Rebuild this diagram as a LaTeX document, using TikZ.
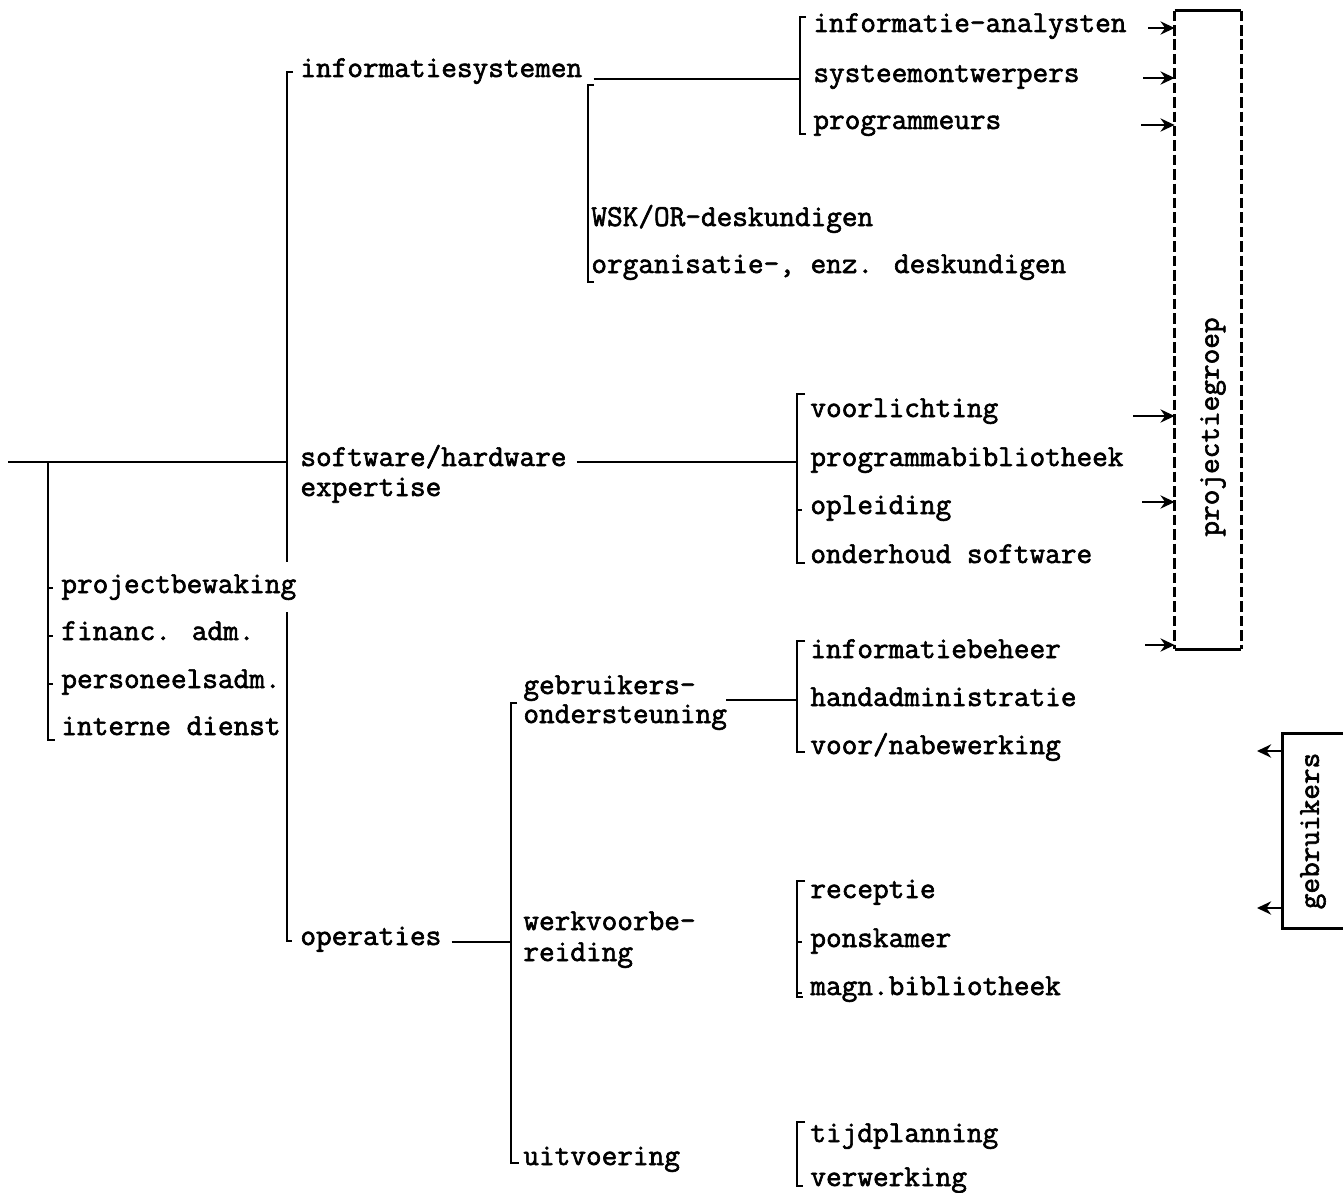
\documentclass[tikz,border=0pt]{standalone}
\usepackage{fontspec}
\usetikzlibrary{arrows.meta,positioning,calc}
\newfontfamily\twfam[Extension=.otf, FakeBold=2]{lmmono12-regular}
\newcommand{\twfont}{\twfam\fontsize{17.3}{20}\selectfont}

\begin{document}
\begin{tikzpicture}[x=0.02cm, y=-0.02cm, line width=1.6pt, >={Stealth[length=8pt,width=7.5pt]},
    lbl/.style={anchor=base west, inner sep=0pt, font=\twfont},
    vlbl/.style={rotate=90, inner sep=0pt, font=\twfont},
    spine/.style={line width=1.6pt, line join=miter},
    feed/.style={->, line width=1.6pt},
    side/.style={line width=1.6pt, dash pattern=on 6pt off 2.2pt}]
  \useasboundingbox (0,0) rectangle (1343,1193);
  % ---------------- labels, top branch ----------------
  \node[lbl] (isys) at (299,77) {informatiesystemen};
  \node[lbl] (ian)  at (812,32) {informatie-analysten};
  \node[lbl] (sow)  at (812,82) {systeemontwerpers};
  \node[lbl] (prg)  at (812,129) {programmeurs};
  \node[lbl] (wsk)  at (590,226) {WSK/OR-deskundigen};
  \node[lbl] (org)  at (590,273) {organisatie-, enz. deskundigen};
  % ---------------- labels, middle branch ----------------
  \node[lbl] (swh)  at (299,466) {software/hardware};
  \node[lbl] (swh2) at (299,496) {expertise};
  \node[lbl] (vrl)  at (809,417) {voorlichting};
  \node[lbl] (pbib) at (809,466) {programmabibliotheek};
  \node[lbl] (opl)  at (809,514) {opleiding};
  \node[lbl] (ohs)  at (809,563) {onderhoud software};
  % ---------------- labels, staff ----------------
  \node[lbl] (pbw)  at (60,593) {projectbewaking};
  \node[lbl] (fin)  at (60,640) {financ. adm.};
  \node[lbl] (pers) at (60,688) {personeelsadm.};
  \node[lbl] (intd) at (60,735) {interne dienst};
  % ---------------- labels, operations ----------------
  \node[lbl] (ops)  at (299,945) {operaties};
  \node[lbl] (gbo)  at (522,694) {gebruikers-};
  \node[lbl] (gbo2) at (522,723) {ondersteuning};
  \node[lbl] (wvb)  at (522,930) {werkvoorbe-};
  \node[lbl] (wvb2) at (522,961) {reiding};
  \node[lbl] (uitv) at (522,1165) {uitvoering};
  \node[lbl] (ibh)  at (809,658) {informatiebeheer};
  \node[lbl] (hadm) at (809,706) {handadministratie};
  \node[lbl] (vnb)  at (809,754) {voor/nabewerking};
  \node[lbl] (rec)  at (809,898) {receptie};
  \node[lbl] (pons) at (809,947) {ponskamer};
  \node[lbl] (magn) at (809,995) {magn.bibliotheek};
  \node[lbl] (tijd) at (809,1142) {tijdplanning};
  \node[lbl] (verw) at (809,1186) {verwerking};
  % ---------------- groups on the right ----------------
  \node[inner sep=0pt, minimum width=1.28cm, minimum height=12.72cm] (pg) at (1208,330) {};
  \node[vlbl] (pgt) at (1213,427) {projectiegroep};
  \node[draw, inner sep=0pt, minimum width=1.5cm, minimum height=3.9cm] (gbr) at (1320,831) {};
  \node[vlbl] (gbt) at (1313,831) {gebruikers};
  \draw (pg.north west) -- (pg.north east);
  \draw (pg.south west) -- (pg.south east);
  \draw[side] (pg.north west) -- (pg.south west);
  \draw[side] (pg.north east) -- (pg.south east);
  % ---------------- spines ----------------
  \coordinate (root) at (8,462);
  \coordinate (tr) at (287,462);
  \draw[spine] (root) -- (tr);
  \draw[spine] (293,72) -- (287,72) -- (287,562);
  \draw[spine] (287,612) -- (287,941) -- (292,941);
  \draw[spine] (48,462) -- (48,740) -- (55,740);
  \draw[spine] (594,85) -- (588,85) -- (588,282) -- (594,282);
  \draw[spine] (806,17) -- (800,17) -- (800,134) -- (806,134);
  \draw[spine] (805,394) -- (797,394) -- (797,563) -- (805,563);
  \draw[spine] (805,641) -- (797,641) -- (797,752) -- (805,752);
  \draw[spine] (517,703) -- (511,703) -- (511,1163) -- (519,1163);
  \draw[spine] (805,881) -- (797,881) -- (797,997) -- (803,997);
  \draw[spine] (805,1122) -- (797,1122) -- (797,1186) -- (803,1186);
  \foreach \y in {588,636,684} {
     \draw[spine] (48,\y) -- (53,\y);
  }
  \foreach \y in {510} {
     \draw[spine] (797,\y) -- (802,\y);
  }
  \foreach \y in {942,993} {
     \draw[spine] (797,\y) -- (802,\y);
  }
  % ---------------- connectors ----------------
  \draw[spine] ($(isys.base east)+(10,2)$) -- (800,79);
  \draw[spine] ($(swh.base east)+(9,-4)$) -- (797,462);
  \draw[spine] ($(gbo2.base east)+(-2,-23)$) -- (797,700);
  \draw[spine] ($(ops.base east)+(9,-3)$) -- (511,942);
  % ---------------- arrows ----------------
  \foreach \sx/\sy in {1148/28, 1143/78, 1141/125, 1133/416, 1142/502, 1145/645} {
     \coordinate (s) at (\sx,\sy);
     \draw[feed] (s) -- (s -| pg.west);
  }
  \foreach \sy in {751,908} {
     \coordinate (g) at (1257,\sy);
     \draw[feed] (g -| gbr.west) -- (g);
  }
\end{tikzpicture}
\end{document}
